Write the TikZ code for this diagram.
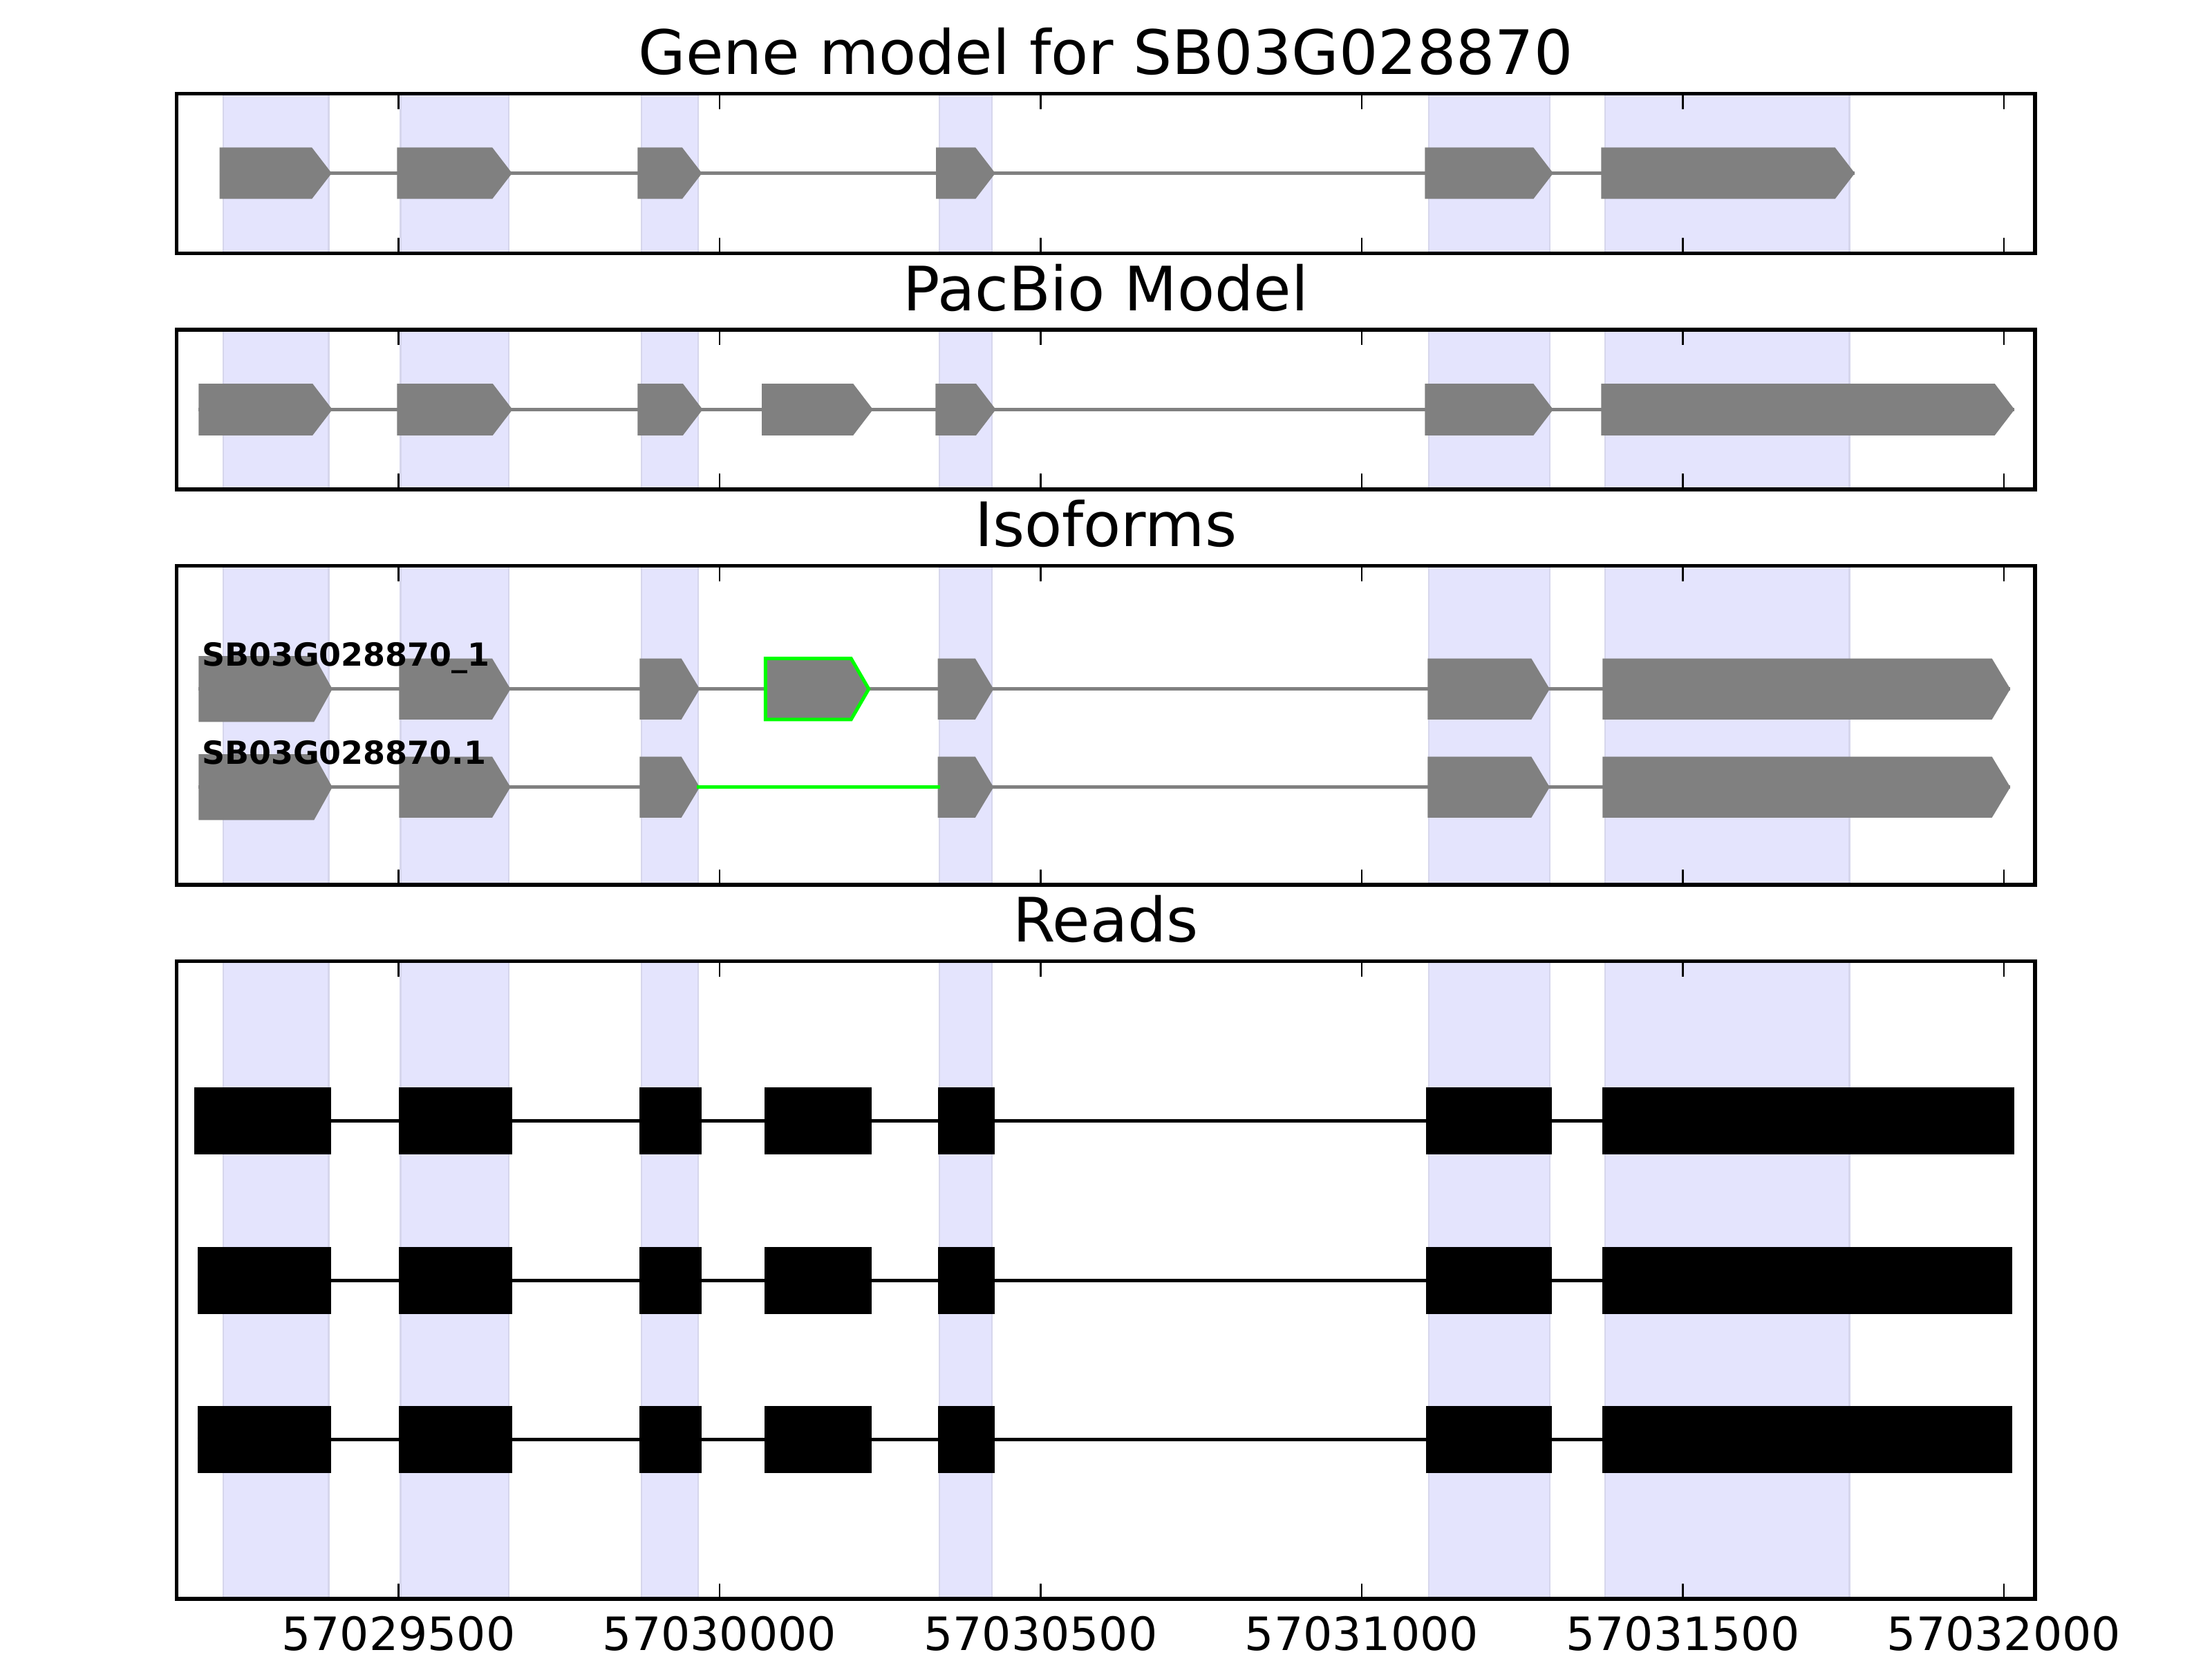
\documentclass[tikz,border=0pt]{standalone}
\usepackage{fontspec}
\setmainfont{DejaVu Sans}
\definecolor{bandblue}{RGB}{228,228,253}
\definecolor{bandedge}{RGB}{214,214,236}
\definecolor{novelgreen}{RGB}{0,255,0}
\begin{document}
\begin{tikzpicture}[x=0.01296cm, y=-0.01296cm,
    band/.style={fill=bandblue, draw=bandedge, line width=0.4pt},
    intron/.style={draw=gray, line width=0.9pt},
    exon/.style={fill=gray},
    novel/.style={draw=novelgreen, line width=0.9pt},
    readline/.style={draw=black, line width=0.9pt},
    readblock/.style={fill=black},
    frame/.style={draw=black, line width=1pt},
    tickmark/.style={draw=black, line width=0.5pt},
    paneltitle/.style={font=\fontsize{16}{19}\selectfont, anchor=base, inner sep=0pt},
    ticklabel/.style={font=\fontsize{12}{14}\selectfont, anchor=base, inner sep=0pt},
    isolabel/.style={font=\bfseries\fontsize{8.3}{10}\selectfont, anchor=base west, inner sep=0pt}]
\useasboundingbox (0,0) rectangle (1568,1176);

% Shading the exon bands in every panel
\foreach \top/\bot in {66.5/179.5, 233.8/346.8, 401.1/627.1, 681.4/1133.4}
  \foreach \l/\r in {158.4/233, 283.9/360.8, 454.8/495, 666/703, 1013/1098.5, 1137.7/1311}
    \draw[band] (\l,\top) rectangle (\r,\bot);

% Drawing panel Gene model
\draw[intron] (155.6,122.8) -- (1314.8,122.8);
\foreach \a/\b in {155.6/235.1, 281.4/363, 452/497.6, 663.5/705.5, 1010/1101, 1135/1314.8}
  \fill[exon] (\a,104.6) -- (\b-14,104.6) -- (\b,122.8) -- (\b-14,141) -- (\a,141) -- cycle;

% Drawing panel PacBio Model
\draw[intron] (140.8,290.3) -- (1428,290.3);
\foreach \a/\b in {140.8/235.6, 281.4/363.3, 452/498.1, 540/618.8, 663.2/705.9, 1010/1101, 1135/1428}
  \fill[exon] (\a,272) -- (\b-14,272) -- (\b,290.3) -- (\b-14,308.6) -- (\a,308.6) -- cycle;

% Drawing panel Isoforms, row SB03G028870_1
\draw[intron] (140.8,488.4) -- (1425,488.4);
\fill[exon] (140.8,465.1) -- (222.6,465.1) -- (235.6,488.4) -- (222.6,511.7) -- (140.8,511.7) -- cycle;
\foreach \a/\b in {282.9/361.9, 453.4/496, 664.7/704.3, 1012/1098.5, 1136/1425}
  \fill[exon] (\a,466.8) -- (\b-13,466.8) -- (\b,488.4) -- (\b-13,510) -- (\a,510) -- cycle;
\filldraw[exon, novel] (542.6,466.8) -- (603.3,466.8) -- (615.8,488.4) -- (603.3,510) -- (542.6,510) -- cycle;

% Drawing panel Isoforms, row SB03G028870.1
\draw[intron] (140.8,558) -- (1425,558);
\fill[exon] (140.8,534.7) -- (222.6,534.7) -- (235.6,558) -- (222.6,581.3) -- (140.8,581.3) -- cycle;
\foreach \a/\b in {282.9/361.9, 453.4/496, 664.7/704.3, 1012/1098.5, 1136/1425}
  \fill[exon] (\a,536.4) -- (\b-13,536.4) -- (\b,558) -- (\b-13,579.6) -- (\a,579.6) -- cycle;
\draw[novel] (494,558) -- (666.5,558);

% Marking isoform names
\node[isolabel] (isoA) at (142.6,472.2) {SB03G028870\_1};
\node[isolabel] (isoB) at (142.6,541.7) {SB03G028870.1};

% Drawing panel Reads
\foreach \yc/\s/\e in {794.6/137.6/1428, 907.8/139.9/1426.6, 1020.5/139.9/1426.6} {
  \draw[readline] (\s,\yc) -- (\e,\yc);
  \foreach \a/\b in {\s/234.9, 282.9/362.9, 453.4/497.1, 541.8/617.7, 664.9/705.2, 1011/1100, 1136/\e}
    \fill[readblock] (\a,\yc-23.8) rectangle (\b,\yc+23.8);
}

% Drawing frames and ticks
\foreach \top/\bot in {66.5/179.5, 233.8/346.8, 401.1/627.1, 681.4/1133.4} {
  \foreach \k in {0,...,5} {
    \draw[tickmark] (282.5+227.6*\k,\bot) -- ++(0,-10.9);
    \draw[tickmark] (282.5+227.6*\k,\top) -- ++(0,10.9);
  }
  \draw[frame] (125.1,\top) rectangle (1442.5,\bot);
}

% Marking panel titles
\node[paneltitle] (titleGene) at (783.8,52.8) {Gene model for SB03G028870};
\node[paneltitle] (titlePacBio) at (783.8,220.1) {PacBio Model};
\node[paneltitle] (titleIso) at (783.8,387.4) {Isoforms};
\node[paneltitle] (titleReads) at (783.8,667.7) {Reads};

% Marking tick labels
\foreach \k/\lab in {0/57029500, 1/57030000, 2/57030500, 3/57031000, 4/57031500, 5/57032000}
  \node[ticklabel] (tick\k) at (282.5+227.6*\k,1170) {\lab};
\end{tikzpicture}
\end{document}
